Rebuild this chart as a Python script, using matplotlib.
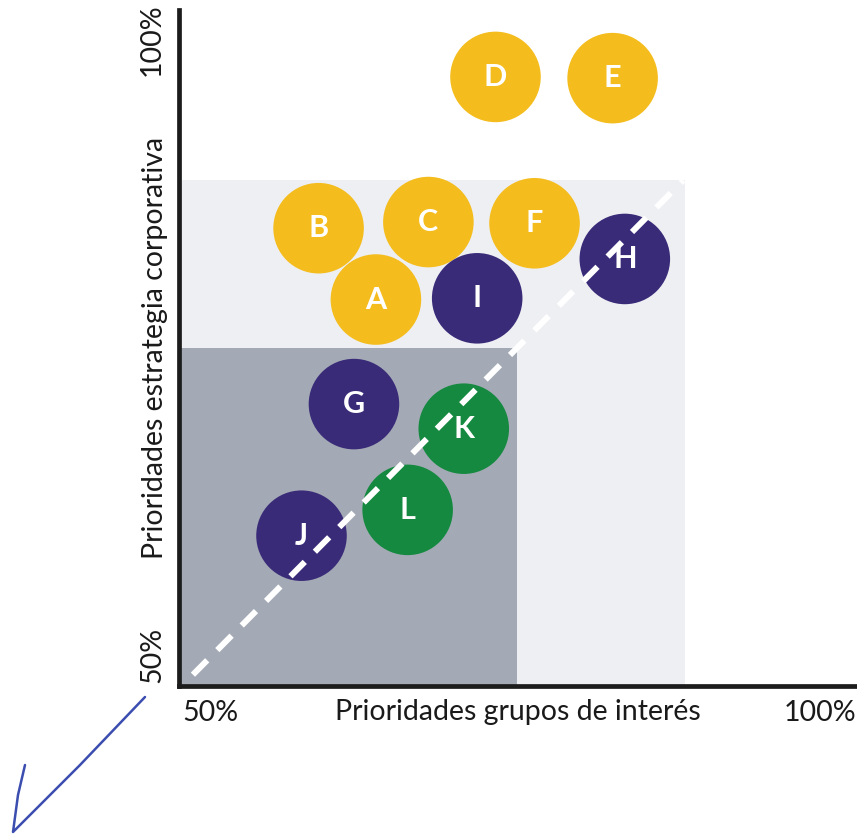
import numpy as np
import matplotlib
matplotlib.use("Agg")
import matplotlib.pyplot as plt
from matplotlib.lines import Line2D

plt.rcParams["font.family"] = ["Lato", "DejaVu Sans"]

# priority matrix: stakeholder priority (x) vs corporate strategy priority (y), in %
labels = ["D", "E", "B", "C", "F", "H", "A", "I", "G", "K", "L", "J"]
x_stake = [73.4, 83.0, 58.9, 67.9, 76.6, 84.0, 63.6, 71.9, 61.8, 70.8, 66.2, 57.5]
y_corp = [97.0, 96.9, 84.7, 85.2, 85.1, 82.2, 78.9, 79.0, 70.4, 68.4, 61.8, 59.7]
groups = ["high", "high", "high", "high", "high", "mid", "high", "mid",
          "mid", "low", "low", "mid"]
group_colors = {"high": "#F4BC1C", "mid": "#3A2B79", "low": "#14893F"}

# shaded zones (upper-right corner of each, in %)
outer_zone = (88.9, 88.6)
inner_zone = (75.2, 75.0)
diag_x = [48.6, 88.8]
diag_y = [48.4, 88.6]

tick_vals = [50, 100]
tick_text = ["50%", "100%"]

# hand-drawn tick mark, figure fraction
pen_x = [145 / 857, 80 / 857, 13 / 857, 18 / 857, 25 / 857]
pen_y = [1 - 697 / 835, 1 - 765 / 835, 1 - 832 / 835, 1 - 795 / 835, 1 - 765 / 835]

fig = plt.figure(figsize=(8.57, 8.35), dpi=100)
ax = fig.add_axes([179 / 857, 149 / 835, 678 / 857, 676 / 835])
x0, x1 = 47.46, 103.03
y0, y1 = 47.48, 102.44
ax.set_xlim(x0, x1)
ax.set_ylim(y0, y1)

ax.fill_between([x0, outer_zone[0]], y0, outer_zone[1], color="#EEEFF3", lw=0, zorder=0)
ax.fill_between([x0, inner_zone[0]], y0, inner_zone[1], color="#A3AAB5", lw=0, zorder=1)

ax.scatter(x_stake, y_corp, s=4250, c=[group_colors[g] for g in groups],
           linewidths=0, zorder=2)
ax.plot(diag_x, diag_y, color="white", lw=4.3, dashes=(3.4, 2.4),
        dash_capstyle="butt", zorder=3)
for lab, xv, yv in zip(labels, x_stake, y_corp):
    ax.text(xv, yv, lab, color="white", fontsize=22, fontweight="bold",
            ha="center", va="center", zorder=4)

for side in ("top", "right"):
    ax.spines[side].set_visible(False)
for side in ("left", "bottom"):
    ax.spines[side].set_linewidth(3.4)
    ax.spines[side].set_color("#1c1c1c")

ax.set_xticks(tick_vals, tick_text, fontsize=20.5)
ax.set_yticks(tick_vals, tick_text, fontsize=20.5, rotation=90, va="center")
ax.tick_params(length=0, pad=10, colors="#1a1a1a")

ax.set_xlabel("Prioridades grupos de interés", fontsize=20.5, color="#1a1a1a")
ax.xaxis.set_label_coords(0.5, -0.019)
ax.set_ylabel("Prioridades estrategia corporativa", fontsize=20.5, color="#1a1a1a")
ax.yaxis.set_label_coords(-0.016, 0.5)

fig.add_artist(Line2D(pen_x, pen_y, transform=fig.transFigure, color="#3C4DB0",
                      lw=1.8, solid_capstyle="round", solid_joinstyle="round"))

fig.savefig("out.png", dpi=100)
